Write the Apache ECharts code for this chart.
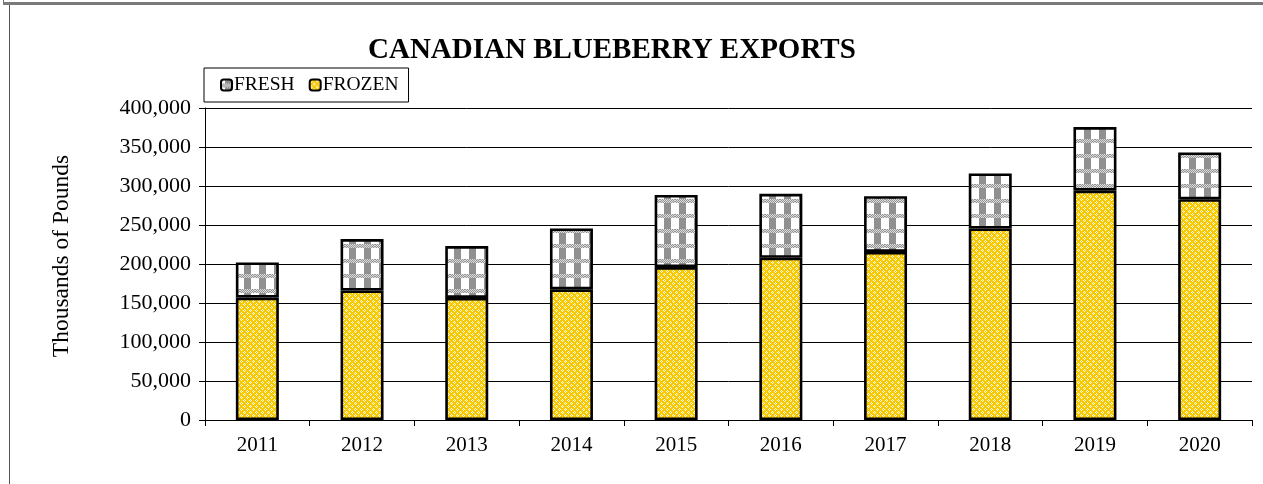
<!DOCTYPE html>
<html>
<head>
<meta charset="utf-8">
<script src="https://cdn.jsdelivr.net/npm/echarts@6/dist/echarts.min.js"></script>
<style>
html,body{margin:0;padding:0;background:#fff;}
#c{width:1263px;height:484px;}
</style>
</head>
<body>
<div id="c"></div>
<script>
var categories = ['2011','2012','2013','2014','2015','2016','2017','2018','2019','2020'];
var frozen = [157000, 166000, 156500, 167500, 196000, 208000, 215500, 245500, 294000, 283000];
var fresh  = [45000, 66000, 66500, 78000, 92500, 82000, 71500, 70500, 81500, 60000];
var yTicks = [0, 50000, 100000, 150000, 200000, 250000, 300000, 350000, 400000];

function makeFresh() {
  var c = document.createElement('canvas');
  c.width = 15; c.height = 15;
  var g = c.getContext('2d');
  g.fillStyle = '#ffffff'; g.fillRect(0,0,15,15);
  g.fillStyle = '#909090'; g.fillRect(4,0,7,15);
  for (var y = 4; y < 8; y++) {
    for (var x = 0; x < 15; x++) {
      g.fillStyle = ((x + y) % 2 === 0) ? '#959595' : '#dcdcdc';
      g.fillRect(x, y, 1, 1);
    }
  }
  return c;
}
function makeFrozen() {
  var c = document.createElement('canvas');
  c.width = 6; c.height = 6;
  var g = c.getContext('2d');
  g.fillStyle = '#F9C900'; g.fillRect(0,0,6,6);
  g.fillStyle = '#ffffff';
  [[1,0],[0,1],[2,1],[1,2],[4,3],[3,4],[5,4],[4,5]].forEach(function(p){ g.fillRect(p[0],p[1],1,1); });
  return c;
}
var freshPat = {image: makeFresh(), repeat: 'repeat'};
var frozenPat = {image: makeFrozen(), repeat: 'repeat'};

var FONT = 'Liberation Serif';
var chart = echarts.init(document.getElementById('c'));
chart.setOption({
  backgroundColor: '#ffffff',
  animation: false,
  title: {
    text: 'CANADIAN BLUEBERRY EXPORTS',
    left: 363, top: 31,
    textStyle: {fontFamily: FONT, fontSize: 29, fontWeight: 'bold', color: '#000'}
  },
  legend: {
    data: ['FRESH', 'FROZEN'],
    left: 204, top: 68,
    orient: 'horizontal',
    padding: [7, 10, 7, 16],
    itemGap: 14,
    itemWidth: 11, itemHeight: 11,
    borderColor: '#000', borderWidth: 1,
    itemStyle: {borderColor: '#000', borderWidth: 2},
    textStyle: {fontFamily: FONT, fontSize: 19.5, color: '#000', padding: [0,0,0,-3]}
  },
  grid: {left: 205, right: 11, top: 108, bottom: 64},
  xAxis: {
    type: 'category',
    data: categories,
    axisLine: {lineStyle: {color: '#000', width: 1}},
    axisTick: {show: true, length: 6, lineStyle: {color: '#000'}},
    axisLabel: {fontFamily: FONT, fontSize: 21, color: '#000', margin: 15},
    splitLine: {show: false}
  },
  yAxis: {
    type: 'value',
    min: 0, max: 400000, interval: 50000,
    axisLine: {show: true, lineStyle: {color: '#000', width: 1}},
    axisTick: {show: true, length: 6, lineStyle: {color: '#000'}},
    axisLabel: {fontFamily: FONT, fontSize: 22, color: '#000', margin: 14,
      formatter: function(v){ return yTicks.indexOf(v) >= 0 ? v.toLocaleString('en-US') : ''; }},
    splitLine: {show: true, lineStyle: {color: '#000', width: 1}}
  },
  series: [
    {name: 'FROZEN', type: 'bar', stack: 'total', data: frozen, barWidth: 43,
     itemStyle: {color: frozenPat, borderColor: '#000', borderWidth: 2.6}},
    {name: 'FRESH', type: 'bar', stack: 'total', data: fresh, barWidth: 43,
     itemStyle: {color: freshPat, borderColor: '#000', borderWidth: 2.6}}
  ],
  graphic: [
    {type: 'line', shape: {x1: 3.5, y1: 0, x2: 3.5, y2: 4}, style: {stroke: '#666', lineWidth: 1}},
    {type: 'rect', shape: {x: 3, y: 2, width: 1260, height: 3}, style: {fill: '#7a7a7a'}},
    {type: 'line', shape: {x1: 9.5, y1: 5, x2: 9.5, y2: 484}, style: {stroke: '#555', lineWidth: 1}},
    {type: 'text', x: 62, y: 256, rotation: Math.PI / 2,
     style: {text: 'Thousands of Pounds', fontFamily: FONT, fontSize: 23.5, fill: '#000',
             align: 'center', verticalAlign: 'middle'}}
  ]
});
</script>
</body>
</html>
